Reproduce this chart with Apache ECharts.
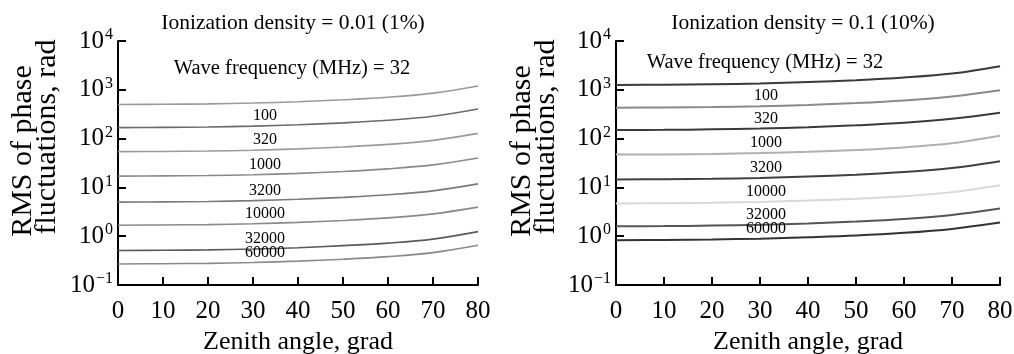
<!DOCTYPE html>
<html>
<head>
<meta charset="utf-8">
<script src="https://cdn.jsdelivr.net/npm/echarts@6/dist/echarts.min.js"></script>
<style>html,body{margin:0;padding:0;background:#fff}#c{width:1014px;height:354px}</style>
</head>
<body>
<div id="c"></div>
<script>
const angles = [0, 10, 20, 30, 40, 50, 60, 70, 80];
const xTicks = ['0', '10', '20', '30', '40', '50', '60', '70', '80'];
const yExponents = ['−1', '0', '1', '2', '3', '4'];
const freqs = ['32', '100', '320', '1000', '3200', '10000', '32000', '60000'];
const yNameLines = ['RMS of phase', 'fluctuations, rad'];

// Ionization density = 0.01 (1%)
const left32    = [500, 505, 515, 535, 570, 625, 705, 855, 1200];
const left100   = [168, 170, 173, 180, 192, 210, 237, 287, 405];
const left320   = [54, 54.5, 55.6, 57.8, 61.6, 67.5, 76, 92, 128];
const left1000  = [17, 17.2, 17.5, 18.2, 19.4, 21.2, 24, 29, 40];
const left3200  = [5.0, 5.05, 5.15, 5.35, 5.7, 6.25, 7.05, 8.5, 11.8];
const left10000 = [1.68, 1.7, 1.73, 1.8, 1.92, 2.1, 2.37, 2.87, 3.95];
const left32000 = [0.51, 0.515, 0.525, 0.545, 0.58, 0.64, 0.72, 0.87, 1.24];
const left60000 = [0.27, 0.273, 0.278, 0.289, 0.308, 0.337, 0.381, 0.46, 0.65];

// Ionization density = 0.1 (10%)
const right32    = [1260, 1270, 1300, 1350, 1440, 1570, 1780, 2150, 3050];
const right100   = [430, 434, 443, 460, 490, 535, 605, 730, 980];
const right320   = [150, 151, 155, 161, 171, 187, 211, 255, 340];
const right1000  = [47, 47.5, 48.5, 50.5, 53.6, 58.6, 66, 80, 114];
const right3200  = [14.6, 14.7, 15, 15.6, 16.7, 18.2, 20.6, 25, 34.5];
const right10000 = [4.7, 4.75, 4.85, 5.05, 5.37, 5.86, 6.6, 8.0, 11.1];
const right32000 = [1.6, 1.61, 1.65, 1.71, 1.83, 2.0, 2.26, 2.73, 3.7];
const right60000 = [0.83, 0.84, 0.86, 0.89, 0.95, 1.03, 1.17, 1.41, 1.9];

const leftSets = [left32, left100, left320, left1000, left3200, left10000, left32000, left60000];
const rightSets = [right32, right100, right320, right1000, right3200, right10000, right32000, right60000];

const leftColors = ['#9a9a9a', '#6a6a6a', '#9a9a9a', '#8a8a8a', '#7a7a7a', '#8a8a8a', '#5a5a5a', '#8a8a8a'];
const rightColors = ['#3a3a3a', '#8a8a8a', '#3a3a3a', '#b0b0b0', '#404040', '#d8d8d8', '#555555', '#333333'];

const FONT = 'Liberation Serif';

function yAxisDef(gridIndex) {
  return {
    type: 'log', logBase: 10, min: 0.1, max: 10000, gridIndex: gridIndex,
    axisLine: { show: true, lineStyle: { color: '#000', width: 2 } },
    axisTick: { show: true, inside: true, length: 8, lineStyle: { color: '#000', width: 2 } },
    splitLine: { show: false },
    minorTick: { show: false },
    axisLabel: {
      margin: 5, color: '#000',
      formatter: function (v) {
        const e = Math.round(Math.log10(v));
        return '{b|10}{s|' + yExponents[e + 1] + '}';
      },
      rich: {
        b: { fontFamily: FONT, fontSize: 25, color: '#000', lineHeight: 28, verticalAlign: 'middle' },
        s: { fontFamily: FONT, fontSize: 16, color: '#000', lineHeight: 28, verticalAlign: 'top', padding: [0, 0, 0, 1] }
      }
    }
  };
}

function xAxisDef(gridIndex) {
  return {
    type: 'value', min: 0, max: 80, interval: 10, gridIndex: gridIndex,
    name: 'Zenith angle, grad', nameLocation: 'middle', nameGap: 42,
    nameTextStyle: { fontFamily: FONT, fontSize: 26, color: '#000' },
    axisLine: { show: true, lineStyle: { color: '#000', width: 2 } },
    axisTick: { show: true, inside: true, length: 8, lineStyle: { color: '#000', width: 2 } },
    splitLine: { show: false },
    axisLabel: {
      margin: 14, fontFamily: FONT, fontSize: 25, color: '#000',
      formatter: function (v) { return xTicks[angles.indexOf(v)]; }
    }
  };
}

function buildSeries(sets, colors, gi, width, labelOffsetX) {
  return sets.map(function (arr, i) {
    const s = {
      type: 'line', name: freqs[i] + (gi ? ' (10%)' : ' (1%)'),
      xAxisIndex: gi, yAxisIndex: gi,
      data: angles.map(function (a, k) { return [a, arr[k]]; }),
      symbol: 'none', smooth: 0.35, silent: true,
      lineStyle: { color: colors[i], width: width },
      z: 3
    };
    if (i > 0) {
      s.markPoint = {
        symbol: 'circle', symbolSize: 0, silent: true,
        data: [{
          coord: [angles[3], arr[3]],
          label: {
            show: true, position: 'top', distance: 2, offset: [labelOffsetX, 0],
            formatter: freqs[i], fontFamily: FONT, fontSize: 16, color: '#000'
          }
        }]
      };
    }
    return s;
  });
}

function yNameText(x, y, txt) {
  return {
    type: 'text', x: x, y: y, rotation: Math.PI / 2, silent: true,
    style: { text: txt, fontFamily: FONT, fontSize: 30, fill: '#000', textAlign: 'center', textVerticalAlign: 'middle' }
  };
}

const chart = echarts.init(document.getElementById('c'), null, { renderer: 'canvas' });
chart.setOption({
  backgroundColor: '#fff',
  animation: false,
  title: [
    { text: 'Ionization density = 0.01 (1%)', left: 293, top: 12, textAlign: 'center', padding: 0,
      textStyle: { fontFamily: FONT, fontSize: 21.5, fontWeight: 'normal', color: '#000' } },
    { text: 'Ionization density = 0.1 (10%)', left: 803, top: 12, textAlign: 'center', padding: 0,
      textStyle: { fontFamily: FONT, fontSize: 21.5, fontWeight: 'normal', color: '#000' } },
    { text: 'Wave frequency (MHz) = 32', left: 292, top: 58, textAlign: 'center', padding: 0,
      textStyle: { fontFamily: FONT, fontSize: 20.5, fontWeight: 'normal', color: '#000' } },
    { text: 'Wave frequency (MHz) = 32', left: 765, top: 52, textAlign: 'center', padding: 0,
      textStyle: { fontFamily: FONT, fontSize: 20.5, fontWeight: 'normal', color: '#000' } }
  ],
  graphic: [
    yNameText(23, 151, yNameLines[0]),
    yNameText(47, 137, yNameLines[1]),
    yNameText(522, 151, yNameLines[0]),
    yNameText(546, 137, yNameLines[1])
  ],
  grid: [
    { left: 118, top: 41, width: 360, height: 244, outerBoundsMode: 'none', containLabel: false },
    { left: 616, top: 41, width: 384, height: 244, outerBoundsMode: 'none', containLabel: false }
  ],
  xAxis: [xAxisDef(0), xAxisDef(1)],
  yAxis: [yAxisDef(0), yAxisDef(1)],
  series: buildSeries(leftSets, leftColors, 0, 1.6, 12).concat(buildSeries(rightSets, rightColors, 1, 2, 6))
});
</script>
</body>
</html>
